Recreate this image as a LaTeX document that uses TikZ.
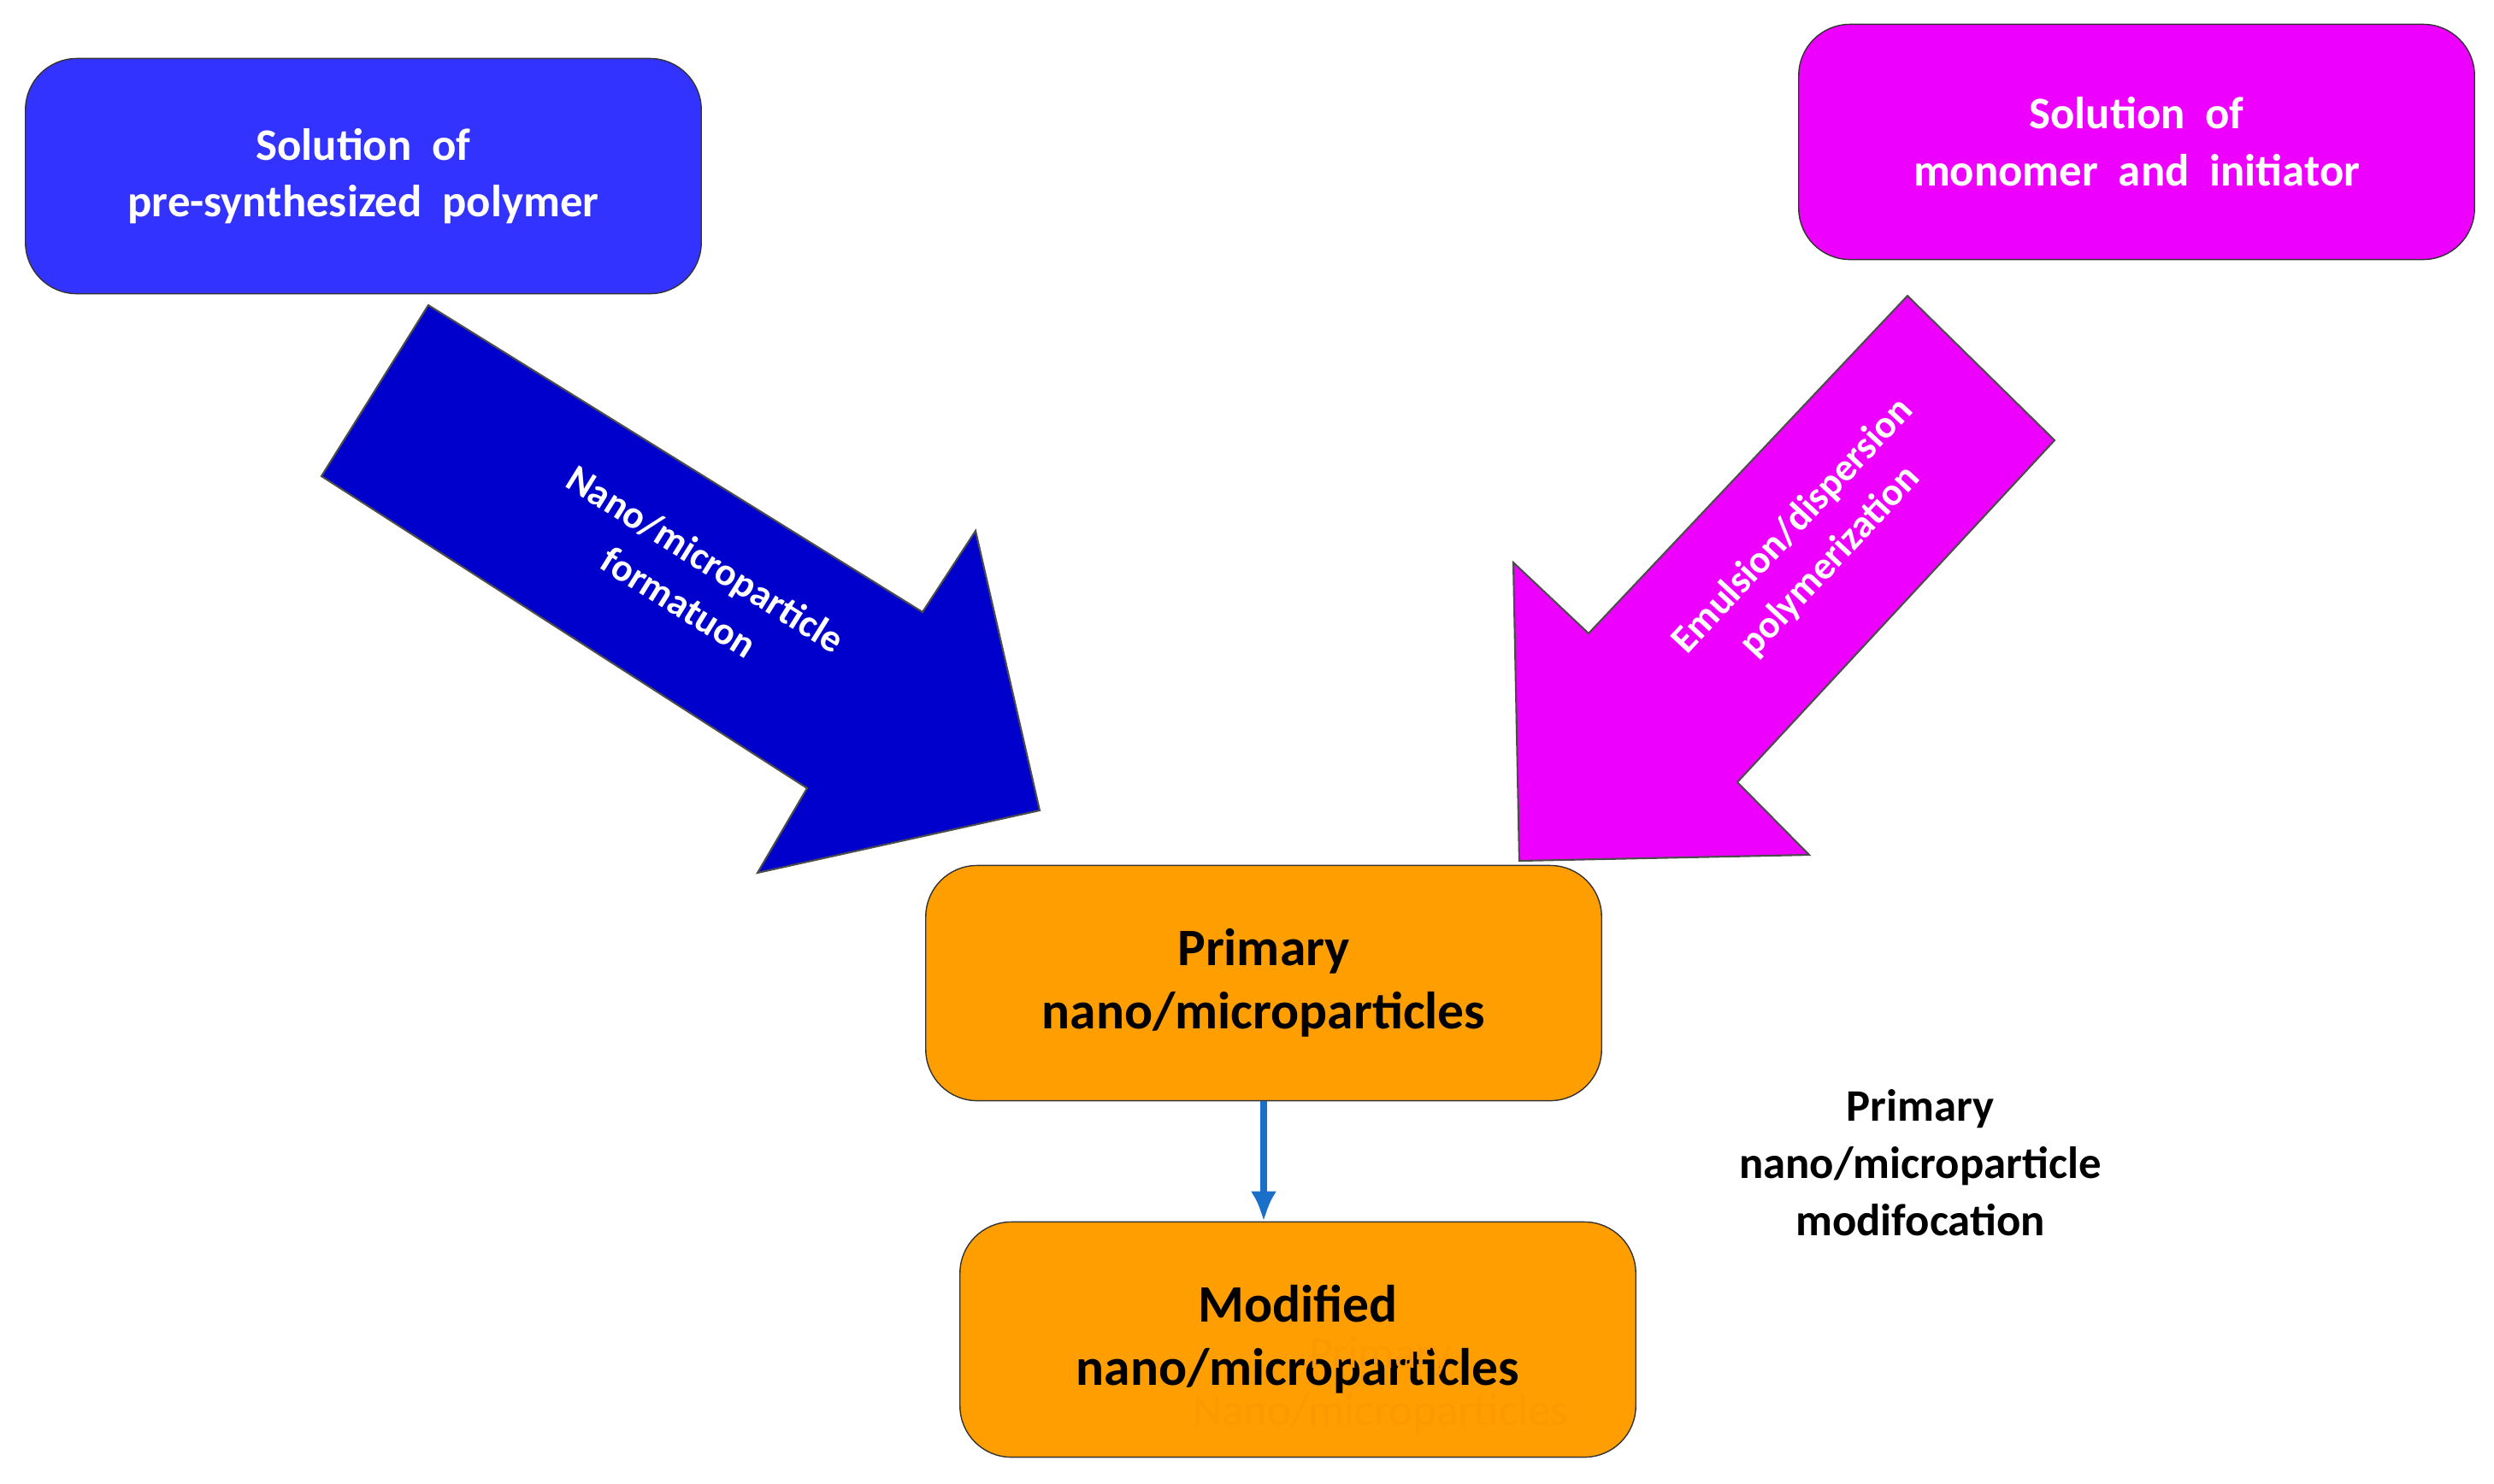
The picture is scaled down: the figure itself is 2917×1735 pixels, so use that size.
\documentclass[tikz,border=0pt]{standalone}
\usepackage{fontspec}
\setmainfont{Carlito}
\usetikzlibrary{arrows.meta}
\definecolor{cblue}{RGB}{51,51,255}
\definecolor{cdblue}{RGB}{0,0,204}
\definecolor{cmag}{RGB}{238,0,255}
\definecolor{corange}{RGB}{255,158,0}
\definecolor{cghost}{RGB}{253,153,0}
\definecolor{carrow}{RGB}{26,111,201}
\begin{document}
\begin{tikzpicture}[x=0.01cm,y=-0.01cm,
  box/.style={draw=black!80,rounded corners=0.6cm,minimum width=7.9cm,minimum height=2.75cm,align=center,font=\bfseries},
  arr/.style={draw=black!70,line width=0.6pt}]
\useasboundingbox (0,0) rectangle (2917,1735);
\node[box,fill=cblue,text=white,font=\bfseries\fontsize{15}{19}\selectfont] (sp) at (425,206) {Solution\ \ of\\pre-synthesized\ \ polymer};
\node[box,fill=cmag,text=white,font=\bfseries\fontsize{15}{19}\selectfont] (sm) at (2499,166) {Solution\ \ of\\monomer\ \ and\ \ initiator};
\node[box,fill=corange,font=\bfseries\fontsize{17.5}{21}\selectfont] (pn) at (1478,1150) {Primary\\nano/microparticles};
\node[box,fill=corange,font=\bfseries\fontsize{17.5}{21}\selectfont] (mn) at (1518,1567) {Modified\\nano/microparticles};
\node[text=cghost,font=\fontsize{15}{19}\selectfont,align=center] (ghost) at (1615,1620) {Primary\\Nano/microparticles};
\path[arr,fill=cdblue] (501,357) -- (1079,716) -- (1141,621) -- (1216,948) -- (886,1021) -- (944,922) -- (376,557) -- cycle;
\path[arr,fill=cmag] (2231,346) -- (2403,515) -- (2032,915) -- (2116,1000) -- (1777,1007) -- (1770,658) -- (1858,741) -- cycle;
\node[text=white,font=\bfseries\fontsize{13}{17}\selectfont,align=center,rotate=-32] (t1) at (810,679) {Nano/microparticle\\formatuon};
\node[text=white,font=\bfseries\fontsize{13}{17}\selectfont,align=center,rotate=47] (t2) at (2119,636) {Emulsion/dispersion\\polymerization};
\coordinate (aend) at (pn.south |- mn.north);
\draw[line width=2.5pt,carrow,-{Latex[length=0.35cm,width=0.3cm]}] (pn.south) -- (aend);
\node[font=\bfseries\fontsize{15}{19}\selectfont,align=center] (lbl) at (2246,1360) {Primary\\nano/microparticle\\modifocation};
\end{tikzpicture}
\end{document}
